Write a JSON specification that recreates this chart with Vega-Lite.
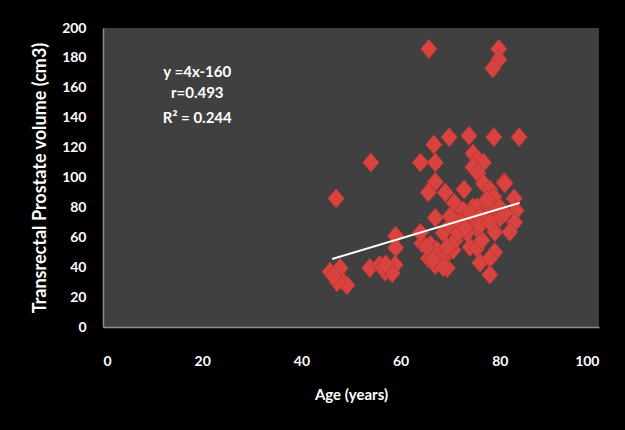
{
  "$schema": "https://vega.github.io/schema/vega-lite/v6.json",
  "width": 496,
  "height": 299,
  "autosize": "none",
  "padding": {"left": 103, "top": 28, "right": 26, "bottom": 103},
  "background": "#000000",
  "config": {"view": {"fill": "#404040", "stroke": null}, "font": "Lato", "axis": {"labelOverlap": false, "grid": false, "ticks": false}},
  "datasets": {
    "points": [
      {"age": 47, "volume": 86}, {"age": 54, "volume": 110}, {"age": 65.7, "volume": 186}, {"age": 79.8, "volume": 186},
      {"age": 79.8, "volume": 179}, {"age": 78.6, "volume": 173}, {"age": 69.8, "volume": 127}, {"age": 73.8, "volume": 128},
      {"age": 78.8, "volume": 127}, {"age": 83.9, "volume": 127}, {"age": 66.7, "volume": 122}, {"age": 64, "volume": 110},
      {"age": 67, "volume": 110}, {"age": 74.6, "volume": 116}, {"age": 75.6, "volume": 112}, {"age": 76.7, "volume": 110},
      {"age": 74.6, "volume": 107}, {"age": 75.6, "volume": 103}, {"age": 67, "volume": 97}, {"age": 76.7, "volume": 96},
      {"age": 80.9, "volume": 97}, {"age": 72.8, "volume": 92}, {"age": 65.6, "volume": 90}, {"age": 69, "volume": 90},
      {"age": 78, "volume": 92}, {"age": 78.8, "volume": 87}, {"age": 70.8, "volume": 83}, {"age": 82.9, "volume": 86},
      {"age": 83.3, "volume": 78}, {"age": 77, "volume": 84}, {"age": 74.6, "volume": 80}, {"age": 67, "volume": 73},
      {"age": 72.6, "volume": 74}, {"age": 78.6, "volume": 77}, {"age": 83, "volume": 70}, {"age": 79, "volume": 63.5},
      {"age": 82, "volume": 63.5}, {"age": 59, "volume": 61}, {"age": 75.4, "volume": 66}, {"age": 59, "volume": 53},
      {"age": 45.8, "volume": 37}, {"age": 47.4, "volume": 37}, {"age": 48.2, "volume": 31}, {"age": 49.2, "volume": 28},
      {"age": 47.8, "volume": 39.5}, {"age": 47.2, "volume": 30}, {"age": 46.5, "volume": 34},
      {"age": 53.8, "volume": 39.5}, {"age": 55.8, "volume": 41.5}, {"age": 57.5, "volume": 39.5}, {"age": 58.9, "volume": 41.5},
      {"age": 56.9, "volume": 37}, {"age": 58.3, "volume": 36}, {"age": 56.5, "volume": 40}, {"age": 57, "volume": 42},
      {"age": 64.3, "volume": 56}, {"age": 66, "volume": 55}, {"age": 67.3, "volume": 51.5}, {"age": 65.6, "volume": 46},
      {"age": 67, "volume": 41.5}, {"age": 68.6, "volume": 46}, {"age": 69.4, "volume": 39.5}, {"age": 70.6, "volume": 51.5},
      {"age": 71, "volume": 58}, {"age": 74, "volume": 53.5}, {"age": 75.4, "volume": 52.8}, {"age": 79, "volume": 50},
      {"age": 76, "volume": 43}, {"age": 78, "volume": 46}, {"age": 78, "volume": 35}, {"age": 68.6, "volume": 63},
      {"age": 73.4, "volume": 63}, {"age": 75.4, "volume": 80}, {"age": 78, "volume": 79.6}, {"age": 74, "volume": 69.6},
      {"age": 70, "volume": 68}, {"age": 64, "volume": 63}, {"age": 69.4, "volume": 53.5}, {"age": 76.4, "volume": 58},
      {"age": 71.6, "volume": 63}, {"age": 77.4, "volume": 73.6}, {"age": 77.4, "volume": 85}, {"age": 65.3, "volume": 53.5},
      {"age": 66.5, "volume": 45}, {"age": 68.6, "volume": 40}, {"age": 72.6, "volume": 78}, {"age": 74, "volume": 76},
      {"age": 76, "volume": 74}, {"age": 80, "volume": 80}, {"age": 80, "volume": 73}, {"age": 72, "volume": 70},
      {"age": 70, "volume": 74}, {"age": 73, "volume": 66}, {"age": 76, "volume": 68}, {"age": 78, "volume": 70},
      {"age": 81, "volume": 76}, {"age": 81, "volume": 96}
    ],
    "trend": [
      {"age": 46.2, "volume": 45.5},
      {"age": 84, "volume": 83}
    ],
    "notes": [
      {"age": 19, "volume": 170.8, "label": "y =4x-160"},
      {"age": 19, "volume": 156.5, "label": "r=0.493"},
      {"age": 19, "volume": 139.8, "label": "R² = 0.244"}
    ]
  },
  "encoding": {
    "x": {
      "field": "age",
      "type": "quantitative",
      "scale": {"domain": [0, 100], "nice": false, "zero": false},
      "axis": {
        "title": "Age (years)",
        "values": [0, 20, 40, 60, 80, 100],
        "grid": false,
        "ticks": false,
        "labelOverlap": false,
        "domainColor": "#8c8c8c",
        "domainWidth": 1.5,
        "labelColor": "#ffffff",
        "labelFont": "Lato",
        "labelFontWeight": "bold",
        "labelFontSize": 14,
        "labelPadding": 27,
        "titleColor": "#ffffff",
        "titleFont": "Lato",
        "titleFontWeight": "bold",
        "titleFontSize": 15,
        "titlePadding": 19
      }
    },
    "y": {
      "field": "volume",
      "type": "quantitative",
      "scale": {"domain": [0, 200], "nice": false},
      "axis": {
        "title": "Transrectal Prostate volume (cm3)",
        "values": [0, 20, 40, 60, 80, 100, 120, 140, 160, 180, 200],
        "grid": false,
        "ticks": false,
        "labelOverlap": false,
        "domainColor": "#8c8c8c",
        "domainWidth": 1.5,
        "labelColor": "#ffffff",
        "labelFont": "Lato",
        "labelFontWeight": "bold",
        "labelFontSize": 14,
        "labelPadding": 17,
        "titleColor": "#ffffff",
        "titleFont": "Lato",
        "titleFontWeight": "bold",
        "titleFontSize": 18,
        "titlePadding": 12
      }
    }
  },
  "layer": [
    {
      "data": {"name": "points"},
      "mark": {
        "type": "point",
        "shape": "M0,-1L0.85,0L0,1L-0.85,0Z",
        "filled": true,
        "size": 380,
        "fill": "#d9433f",
        "stroke": "#a83230",
        "strokeWidth": 0.6,
        "opacity": 1
      }
    },
    {
      "data": {"name": "trend"},
      "mark": {"type": "line", "color": "#ffffff", "strokeWidth": 2}
    },
    {
      "data": {"name": "notes"},
      "mark": {"type": "text", "color": "#ffffff", "font": "Lato", "fontWeight": "bold", "fontSize": 15, "align": "center", "baseline": "middle"},
      "encoding": {
        "text": {"field": "label", "type": "nominal"}
      }
    }
  ]
}
